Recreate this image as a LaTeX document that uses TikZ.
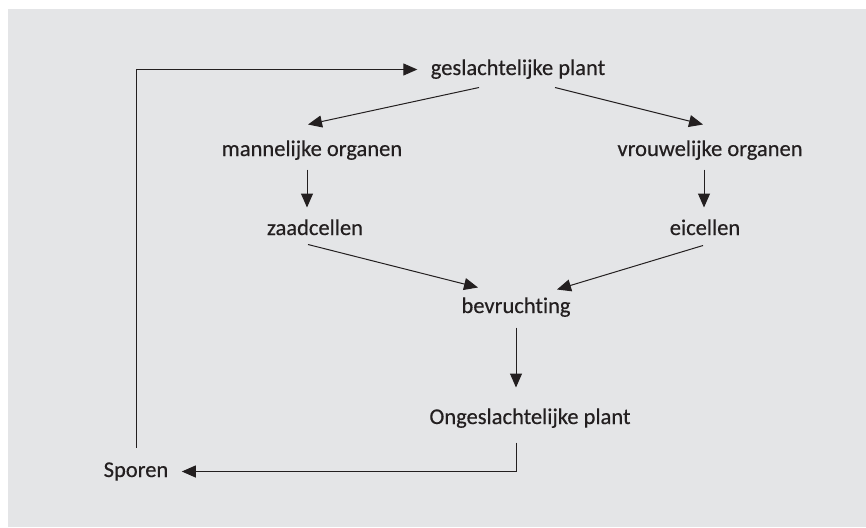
\documentclass[tikz,border=0pt]{standalone}
\usepackage{fontspec}
\setmainfont{Carlito}
\newfontfamily\lblfont{Carlito}[FakeBold=0.4,Ligatures=NoCommon]
\usetikzlibrary{arrows.meta}
\definecolor{bggray}{RGB}{228,229,231}
\definecolor{ink}{RGB}{35,31,32}
\begin{document}
\begin{tikzpicture}[x=1pt,y=-1pt,>={Triangle[length=14pt,width=12pt]},line width=1pt,draw=ink]
    \tikzstyle{lbl} = [anchor=base,inner sep=0pt,text height=16pt,text depth=5pt,text=ink,font=\lblfont\fontsize{22.5}{26}\selectfont]
    \useasboundingbox (0,0) rectangle (866,527);
    \fill [bggray] (8,9) rectangle (866,527);
    \node [lbl] (gp) at (518,75) {geslachtelijke plant};
    \node [lbl] (mo) at (312,156) {mannelijke organen};
    \node [lbl] (vo) at (710,156) {vrouwelijke organen};
    \node [lbl] (zc) at (315,235) {zaadcellen};
    \node [lbl] (ec) at (705,235) {eicellen};
    \node [lbl] (bv) at (516,313) {bevruchting};
    \node [lbl] (op) at (530,424) {Ongeslachtelijke plant};
    \node [lbl] (sp) at (136,477) {Sporen};
    \draw [->,shorten >=13pt] ([yshift=13pt]sp.north) |- (gp.west);
    \draw [->] ([xshift=-39pt,yshift=-7pt]gp.south) -- ([xshift=-4pt,yshift=15pt]mo.north);
    \draw [->] ([xshift=37pt,yshift=-7pt]gp.south) -- ([xshift=-7pt,yshift=15pt]vo.north);
    \draw [->] ([xshift=-5pt,yshift=-8pt]mo.south) -- ([xshift=-8pt,yshift=11pt]zc.north);
    \draw [->] ([xshift=-6pt,yshift=-8pt]vo.south) -- ([xshift=-1pt,yshift=11pt]ec.north);
    \draw [->] ([xshift=-7pt,yshift=-4pt]zc.south) -- ([xshift=-38pt,yshift=9pt]bv.north);
    \draw [->] ([xshift=-2pt,yshift=-5pt]ec.south) -- ([xshift=41pt,yshift=7pt]bv.north);
    \draw [->] ([yshift=-9pt]bv.south) -- ([xshift=-14pt,yshift=20pt]op.north);
    \draw [->,shorten >=13pt] ([xshift=-14pt,yshift=-13pt]op.south) |- (sp.east);
\end{tikzpicture}
\end{document}
